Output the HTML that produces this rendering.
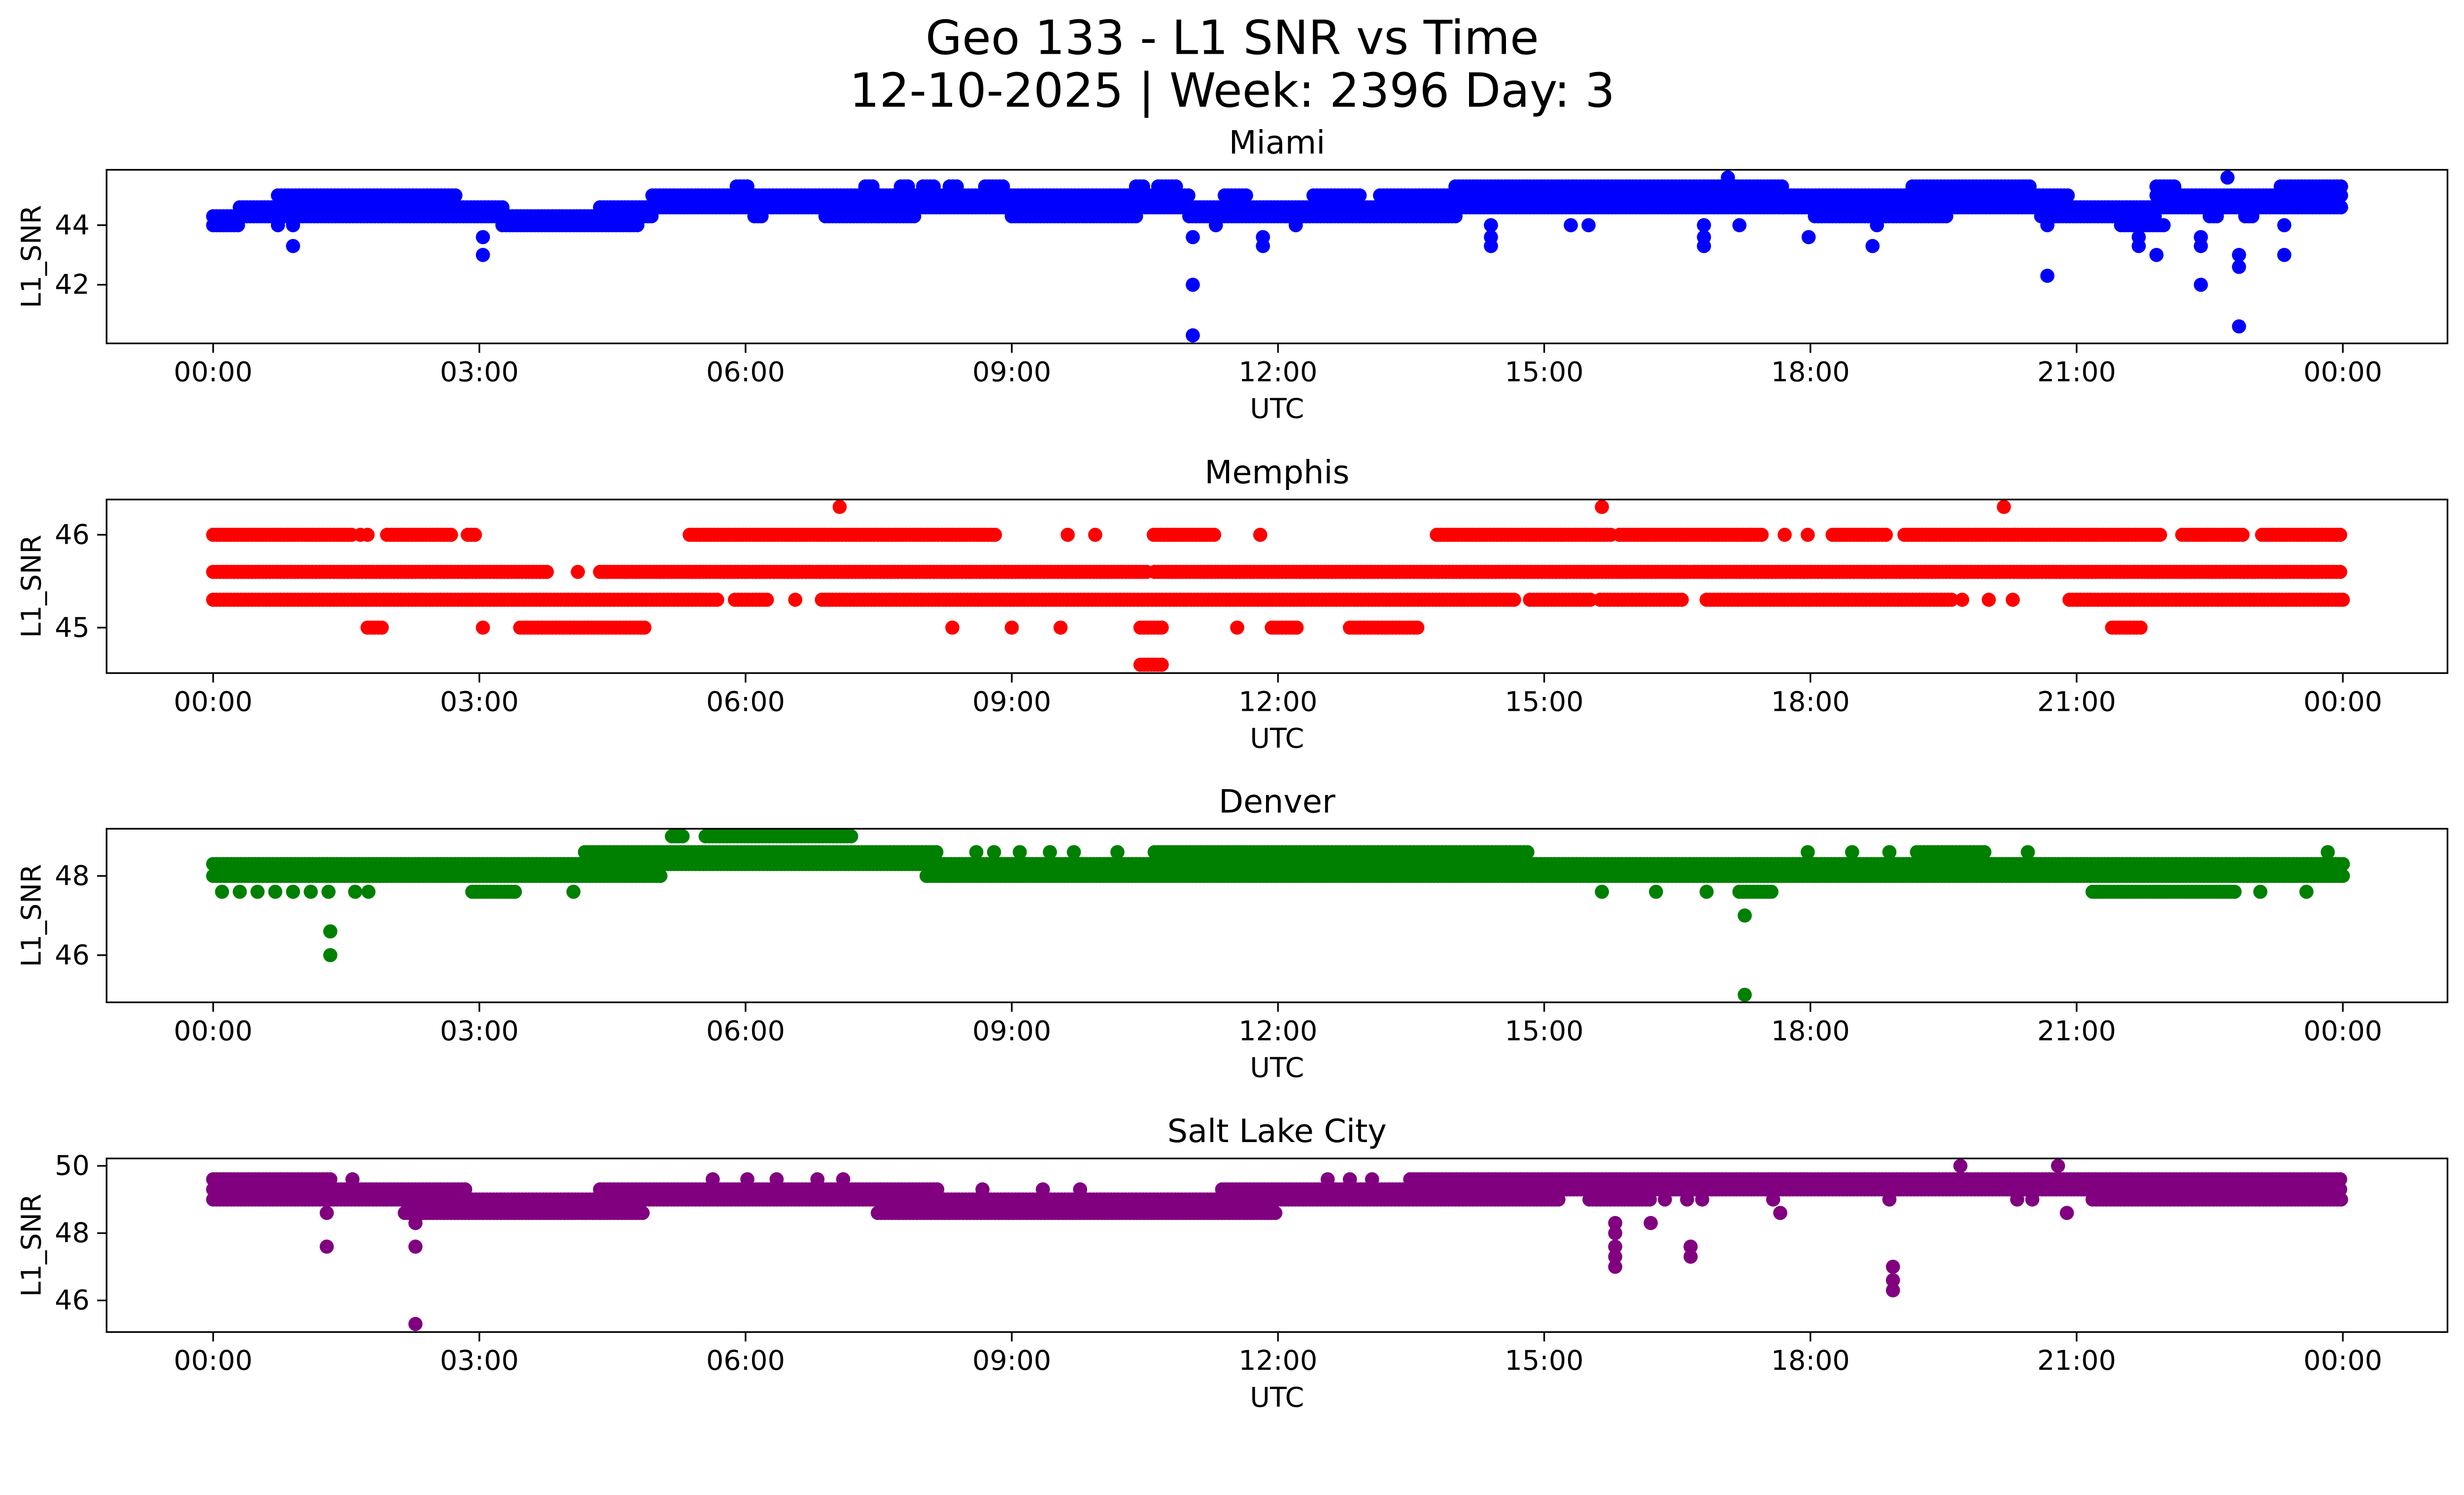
<!DOCTYPE html>
<html><head><meta charset="utf-8"><title>Geo 133 - L1 SNR vs Time</title>
<style>
html,body{margin:0;padding:0;background:#fff;overflow:hidden;}
svg{display:block;width:100vw;height:auto;}
text{font-family:"DejaVu Sans","Liberation Sans",sans-serif;fill:#000;}
</style></head>
<body>
<svg id="fig" xmlns="http://www.w3.org/2000/svg" viewBox="0 0 5225 3033" preserveAspectRatio="xMinYMin meet">
<rect x="0" y="0" width="5225" height="3033" fill="#fff"/>
<text x="2613" y="80" font-size="100" text-anchor="middle" dominant-baseline="central">Geo 133 - L1 SNR vs Time</text>
<text x="2613" y="192" font-size="100" text-anchor="middle" dominant-baseline="central">12-10-2025 | Week: 2396 Day: 3</text>
</svg>
<script>
// time tick labels (hours)
const xTickHours = [0,3,6,9,12,15,18,21,24];
const xTickLabels = ["00:00","03:00","06:00","09:00","12:00","15:00","18:00","21:00","00:00"];
const panelNames = ["Miami","Memphis","Denver","Salt Lake City"];
const panelColors = ["#0000ff","#ff0000","#008000","#800080"];

// Miami bands [startHour, endHour, snr]
const miamiBands = [[0,0.3,44.0],[0,0.3,44.3],[0.3,3.26,44.6],[0.3,4.95,44.3],[0.73,2.75,45.0],[3.26,4.78,44.0],[4.36,4.95,44.6],
[4.95,11.0,44.6],[4.95,11.0,45.0],[5.9,6.05,45.3],[7.35,7.45,45.3],[7.75,7.85,45.3],[8.0,8.15,45.3],[8.3,8.4,45.3],[8.7,8.9,45.3],[10.4,10.5,45.3],[10.65,10.85,45.3],
[6.1,6.2,44.3],[6.9,7.9,44.3],[9.0,10.4,44.3],
[11.0,14.0,44.3],[11.0,14.0,44.6],[11.4,11.65,45.0],[12.4,12.95,45.0],[13.15,14.0,45.0],
[14.0,17.7,44.6],[14.0,17.7,45.0],[14.0,17.7,45.3],
[17.7,20.9,44.6],[17.7,20.9,45.0],[19.15,20.5,45.3],[18.05,19.55,44.3],
[20.6,21.9,44.3],[20.6,21.9,44.6],[21.5,22.0,44.0],
[21.9,24,44.6],[21.9,24,45.0],[21.9,22.1,45.3],[23.3,24,45.3],[22.9,23.0,44.3],[22.5,22.6,44.3]];
// Miami isolated points [hour, snr]
const miamiPoints = [[0.73,44.0],[0.9,43.3],[0.9,44.0],[3.04,43.6],[3.04,43.0],[11.04,43.6],[11.04,42.0],[11.04,40.3],[11.3,44.0],[11.83,43.6],[11.83,43.3],[12.2,44.0],[14.4,43.6],[14.4,43.3],[14.4,44.0],[15.3,44.0],[15.5,44.0],[16.8,43.3],[16.8,43.6],[16.8,44.0],[17.07,45.6],[17.2,44.0],[17.98,43.6],[18.7,43.3],[18.75,44.0],[20.67,42.3],[20.67,44.0],[21.7,43.6],[21.7,43.3],[21.8,44.0],[21.9,43.0],[22.4,43.6],[22.4,43.3],[22.4,42.0],[22.7,45.6],[22.83,43.0],[22.83,42.6],[22.83,40.6],[23.34,43.0],[23.34,44.0]];

// Memphis
const memphisBands = [[0,1.57,46.0],[1.96,2.7,46.0],[2.87,2.97,46.0],[5.37,8.84,46.0],[10.6,11.3,46.0],[13.79,15.77,46.0],[15.85,17.46,46.0],[18.25,18.86,46.0],[19.06,21.97,46.0],[22.19,22.87,46.0],[23.09,24,46.0],
[0,3.77,45.6],[4.36,10.53,45.6],[10.61,24,45.6],
[0,5.71,45.3],[5.88,6.25,45.3],[6.86,14.67,45.3],[14.84,15.55,45.3],[15.63,16.56,45.3],[16.83,19.6,45.3],[20.92,24,45.3],
[1.74,1.91,45.0],[3.46,4.87,45.0],[10.45,10.7,45.0],[11.93,12.22,45.0],[12.81,13.57,45.0],[21.4,21.75,45.0],
[10.45,10.7,44.6]];
const memphisPoints = [[1.66,46.0],[1.74,46.0],[9.63,46.0],[9.94,46.0],[11.8,46.0],[17.71,46.0],[17.97,46.0],[4.11,45.6],[6.56,45.3],[19.71,45.3],[20.01,45.3],[20.28,45.3],[3.04,45.0],[8.33,45.0],[9.0,45.0],[9.55,45.0],[11.54,45.0],[7.06,46.3],[15.65,46.3],[20.18,46.3]];

// Denver
const denverBands = [[0,5.07,48.0],[8.04,24,48.0],[0,24,48.3],[4.19,8.16,48.6],[10.61,14.84,48.6],[19.2,19.99,48.6],[5.17,5.3,49.0],[5.55,7.2,49.0],[2.92,3.43,47.6],[17.2,17.58,47.6],[21.18,22.78,47.6]];
const denverPoints = [[9.09,48.6],[9.43,48.6],[9.7,48.6],[10.19,48.6],[8.6,48.6],[8.8,48.6],[17.97,48.6],[18.47,48.6],[18.89,48.6],[20.45,48.6],[23.83,48.6],
[0.1,47.6],[0.3,47.6],[0.5,47.6],[0.7,47.6],[0.9,47.6],[1.1,47.6],[1.3,47.6],[1.6,47.6],[1.75,47.6],[4.06,47.6],[15.65,47.6],[16.26,47.6],[16.83,47.6],[23.07,47.6],[23.59,47.6],
[1.32,46.6],[1.32,46.0],[17.26,47.0],[17.26,45.0]];

// Salt Lake City
const slcBands = [[0,1.32,49.6],[13.49,24,49.6],[0,2.84,49.3],[4.36,8.16,49.3],[11.37,24,49.3],[0,15.18,49.0],[15.51,16.19,49.0],[21.18,24,49.0],[2.16,4.87,48.6],[7.49,11.97,48.6]];
const slcPoints = [[1.57,49.6],[5.63,49.6],[6.02,49.6],[6.35,49.6],[6.81,49.6],[7.1,49.6],[12.56,49.6],[12.81,49.6],[13.06,49.6],[8.67,49.3],[9.35,49.3],[9.77,49.3],
[16.36,49.0],[16.61,49.0],[16.78,49.0],[17.58,49.0],[18.89,49.0],[20.33,49.0],[20.5,49.0],[1.28,48.6],[17.66,48.6],[20.89,48.6],
[1.28,47.6],[2.28,48.3],[2.28,47.6],[2.28,45.3],[15.8,48.3],[15.8,48.0],[15.8,47.6],[15.8,47.3],[15.8,47.0],[16.2,48.3],[16.65,47.6],[16.65,47.3],[18.93,47.0],[18.93,46.6],[18.93,46.3],[19.69,50.0],[20.79,50.0]];

const yTicks = [[42,44],[45,46],[46,48],[46,48,50]];
const yLimits = [[40.03,45.86],[44.51,46.38],[44.81,49.19],[45.06,50.22]];
const allBands = [miamiBands, memphisBands, denverBands, slcBands];
const allPoints = [miamiPoints, memphisPoints, denverPoints, slcPoints];

const NS = "http://www.w3.org/2000/svg";
const svg = document.getElementById("fig");
const AX_L = 226, AX_R = 5190, AX_H = 368;
const panelTops = [360, 1059, 1757, 2456];
const X0 = 452, PX_PER_H = 188.17;
function xScale(h){ return X0 + h * PX_PER_H; }
function mk(tag, attrs, parent){
  const e = document.createElementNS(NS, tag);
  for (const k in attrs) e.setAttribute(k, attrs[k]);
  (parent || svg).appendChild(e);
  return e;
}

panelNames.forEach((name, i) => {
  const top = panelTops[i];
  const [ymin, ymax] = yLimits[i];
  const yScale = v => top + AX_H * (ymax - v) / (ymax - ymin);
  const g = mk("g", {});
  
  

  const clipId = "clip" + i;
  const cp = mk("clipPath", {id: clipId}, g);
  mk("rect", {x: AX_L, y: top, width: AX_R - AX_L, height: AX_H}, cp);

  const pts = mk("g", {"clip-path": "url(#" + clipId + ")", fill: panelColors[i]}, g);
  
  
  allBands[i].forEach(b => {
    for (let t = b[0]; t <= b[1] + 1e-9; t += 0.04) {
      const c = mk("circle", {cx: xScale(t).toFixed(1), cy: yScale(b[2]).toFixed(1), r: 15}, pts);
      
      
    }
  });
  allPoints[i].forEach(p => {
    const c = mk("circle", {cx: xScale(p[0]).toFixed(1), cy: yScale(p[1]).toFixed(1), r: 15}, pts);
    
    
  });

  const frame = mk("rect", {x: AX_L, y: top, width: AX_R - AX_L, height: AX_H, fill: "none", stroke: "#000", "stroke-width": 3.5}, g);
  
  

  xTickHours.forEach((h, k) => {
    const x = xScale(h);
    mk("line", {x1: x, x2: x, y1: top + AX_H, y2: top + AX_H + 20, stroke: "#000", "stroke-width": 3.5}, g);
    const t = mk("text", {x: x, y: top + AX_H + 61, "font-size": 58, "text-anchor": "middle", "dominant-baseline": "central"}, g);
    t.textContent = xTickLabels[k];
    
    
  });
  yTicks[i].forEach(v => {
    const y = yScale(v);
    mk("line", {x1: AX_L - 20, x2: AX_L, y1: y, y2: y, stroke: "#000", "stroke-width": 3.5}, g);
    const t = mk("text", {x: AX_L - 36, y: y, "font-size": 58, "text-anchor": "end", "dominant-baseline": "central"}, g);
    t.textContent = String(v);
    
    
  });
  const xl = mk("text", {x: (AX_L + AX_R) / 2, y: top + AX_H + 139, "font-size": 58, "text-anchor": "middle", "dominant-baseline": "central"}, g);
  xl.textContent = "UTC";
  
  
  const cy = top + AX_H / 2;
  const yl = mk("text", {x: 67, y: cy, "font-size": 58, "text-anchor": "middle", "dominant-baseline": "central", transform: "rotate(-90 67 " + cy + ")"}, g);
  yl.textContent = "L1_SNR";
  
  
  const tt = mk("text", {x: (AX_L + AX_R) / 2, y: top - 57, "font-size": 68, "text-anchor": "middle", "dominant-baseline": "central"}, g);
  tt.textContent = name;
  
  
});
</script>
</body></html>
